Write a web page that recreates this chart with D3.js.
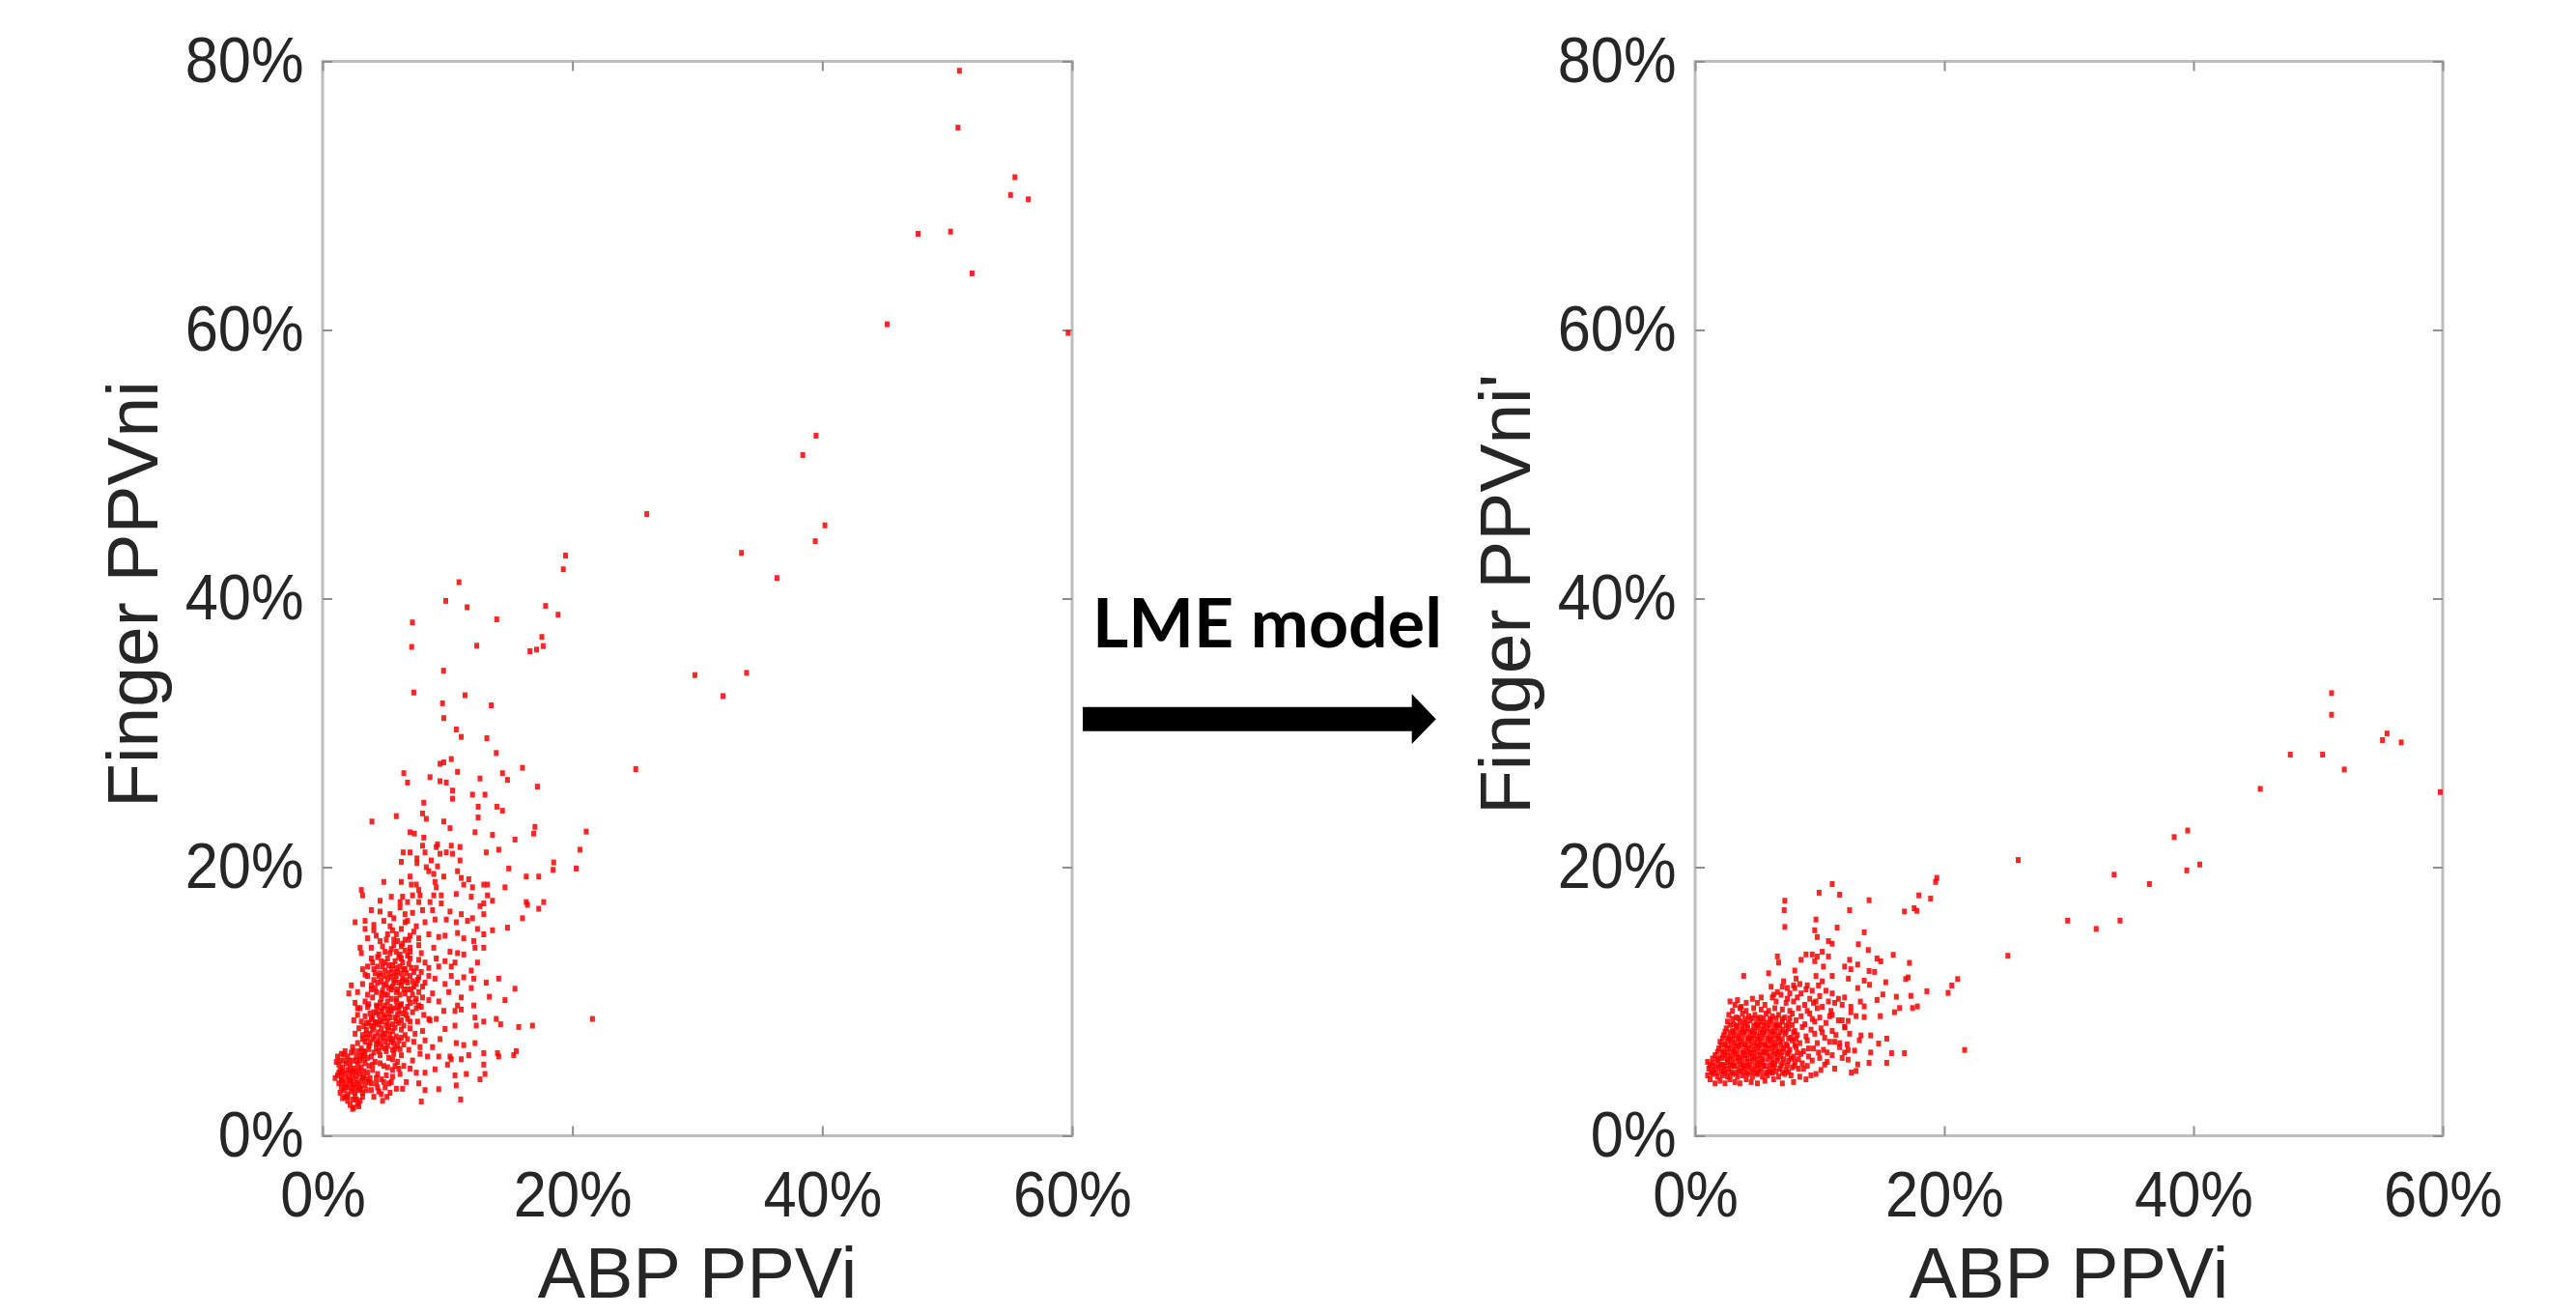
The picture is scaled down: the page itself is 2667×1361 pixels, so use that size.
<!DOCTYPE html>
<html>
<head>
<meta charset="utf-8">
<script src="https://cdn.jsdelivr.net/npm/d3@7"></script>
<style>
  body { margin: 0; background: #fff; }
  svg { display: block; }
</style>
</head>
<body>
<svg id="chart"></svg>
<script>
var width = 2667,
  height = 1361;

// axis setup
var xDomain = [0, 60];
var yDomain = [0, 80];
var xTicks = [0, 20, 40, 60];
var yTicks = [0, 20, 40, 60, 80];
var xTitle = 'ABP PPVi';
var yTitles = ['Finger PPVni', "Finger PPVni'"];
var arrowText = 'LME model';

// left panel: [ABP PPVi %, Finger PPVni %]
var beforeTail = [
  [50.98,79.3],[50.86,75.06],[55.42,71.37],[55.07,70.05],[56.49,69.73],[47.67,67.16],[50.27,67.32],[51.99,64.21],
  [45.19,60.42],[59.68,59.78],[39.5,52.13],[38.44,50.69],[25.95,46.29],[40.21,45.45],[39.44,44.27],[33.53,43.4],
  [36.37,41.53],[19.45,43.2],[19.27,42.18],[10.92,41.22],[9.86,39.83],[11.57,39.35],[7.19,38.22],[13.94,38.45],
  [17.85,39.45],[18.85,38.8],[7.13,36.4],[12.34,36.49],[17.55,37.14],[17.66,36.46],[16.6,36.08],[17.13,36.2],
  [9.68,34.63],[29.8,34.3],[33.94,34.47],[32.05,32.74],[25.07,27.3],[21.1,22.65],[20.6,21.3],[20.3,19.9],
  [7.3,33.0],[11.4,32.8],[9.6,32.2],[13.5,32.05],[9.7,31.1],[10.7,30.25],[11.1,29.7],[13.15,29.6],[13.9,28.5],
  [9.4,27.7],[9.7,27.8],[10.3,28.05],[10.8,27.1],[6.5,27.0],[6.8,26.3],[8.6,26.7],[9.4,26.4],[9.9,26.3],
  [10.4,25.7],[10.4,25.1],[12.6,26.6],[14.4,27.0],[14.8,26.5],[16.0,27.4],[17.2,26.0],[12.0,25.4],[13.0,25.4],
  [12.45,24.5],[12.45,23.7],[13.95,24.5],[14.4,24.2],[8.1,24.8],[8.0,24.0],[8.3,23.6],[5.9,23.8],[3.95,23.4],
  [9.7,23.4],[10.2,22.9],[12.2,22.6],[13.6,22.4],[15.4,22.05],[17.0,23.0],[16.9,22.5],[7.0,22.6],[7.35,22.5],
  [8.1,22.2],[8.0,21.6],[8.2,21.1],[9.2,21.7],[9.1,21.5],[10.3,21.6],[11.0,21.5],[10.4,21.0],[9.9,21.1],
  [9.4,21.0],[6.45,21.1],[7.0,21.1],[7.55,20.65],[7.55,20.3],[6.3,20.4],[8.7,20.5],[8.3,20.0],[9.2,20.06],
  [11.0,20.5],[13.1,21.1],[14.1,21.3],[18.5,20.35],[14.9,19.9],[18.45,19.8],[16.3,19.3],[17.3,19.3]
];

var beforeSpread = [
  [8.5,19.7],[8.9,19.5],[9.7,19.3],[10.8,19.7],[11.1,19.2],[11.7,19.1],[7.0,19.3],[7.1,18.7],[4.9,18.9],
  [6.3,18.9],[7.5,18.7],[7.7,18.3],[9.0,18.9],[9.1,18.5],[11.3,18.7],[12.0,18.5],[12.9,18.7],[3.1,18.3],
  [3.2,17.9],[5.5,17.8],[6.4,17.8],[7.2,17.9],[7.8,17.9],[8.9,17.9],[9.5,17.9],[10.7,18.0],[11.9,17.8],
  [4.6,17.5],[6.2,17.4],[6.8,17.4],[7.7,17.4],[8.6,17.4],[9.5,17.3],[12.9,17.3],[12.6,17.1],[3.9,16.8],
  [4.6,16.7],[5.4,16.5],[6.2,17.0],[6.6,16.5],[7.2,16.6],[8.0,16.8],[8.8,16.8],[10.2,16.7],[11.1,16.5],
  [12.0,16.2],[12.9,16.5],[2.6,15.9],[3.4,16.0],[4.1,15.7],[4.9,16.0],[5.7,16.2],[6.8,16.0],[7.5,15.6],
  [8.2,15.9],[9.0,16.1],[9.9,16.1],[10.7,15.9],[11.6,16.0],[12.4,15.4],[3.4,15.4],[4.1,15.3],[5.2,15.0],
  [5.9,15.0],[7.0,14.9],[7.7,14.7],[8.5,15.0],[9.3,14.8],[9.8,14.9],[10.8,15.1],[11.3,14.7],[12.1,14.5],
  [12.9,15.0],[3.6,14.7],[3.0,14.0],[3.9,14.0],[4.8,14.1],[5.7,14.2],[6.3,14.1],[7.0,14.0],[7.7,14.2],
  [8.9,14.0],[10.2,13.7],[10.8,13.6],[11.3,13.5],[12.2,14.0],[12.9,14.0],[3.1,13.6],[4.4,13.3],[5.2,13.2],
  [6.2,13.5],[7.0,13.2],[7.7,13.1],[8.2,12.9],[9.1,13.2],[9.8,13.0],[10.6,12.9],[12.4,12.9],[3.6,12.6],
  [4.1,12.4],[4.8,12.6],[5.5,12.4],[6.2,12.6],[6.7,12.1],[7.5,12.5],[8.5,12.5],[9.3,12.6],[10.3,12.6],
  [11.9,12.3],[3.6,11.9],[4.5,11.9],[5.2,11.7],[5.9,11.9],[6.4,11.7],[7.0,11.9],[7.7,11.8],[8.5,11.9],
  [9.0,11.7],[10.3,11.9],[11.3,11.8],[12.1,11.7],[2.3,11.2],[3.2,11.3],[3.9,11.2],[4.9,11.2],[5.7,11.4],
  [6.3,11.2],[6.8,11.4],[7.5,11.3],[8.0,11.1],[9.8,11.3],[10.8,11.4],[11.9,11.0],[2.1,10.6],[2.8,10.7],
  [3.6,10.5],[4.3,10.7],[5.2,10.5],[5.9,10.7],[6.6,10.6],[7.2,10.5],[7.7,10.7],[8.8,10.6],[10.1,10.7],
  [11.1,10.3],[2.6,9.9],[3.4,10.0],[4.3,9.7],[5.2,10.0],[6.2,9.7],[7.0,9.9],[7.7,9.7],[8.5,10.1],
  [9.3,10.0],[10.8,9.7],[12.1,9.7],[2.8,9.5],[4.8,9.5],[7.5,9.5],
  [5.8,13.0],[6.0,12.2],[6.4,12.9],[6.6,13.8],[6.1,11.4],[6.5,10.9],[5.9,10.2],[6.3,9.8],[6.9,10.2],
  [6.7,11.6],[6.0,14.5],[6.6,14.6],[5.6,12.7],[7.3,12.2],[7.1,10.9],[5.5,10.9],[6.2,10.5],[6.5,12.4],
  [5.9,13.7],[7.0,13.7],[5.3,11.0],[4.7,10.2],[7.4,10.0],[6.0,9.6],[6.8,9.6],[3.9,13.2],[4.6,12.1],
  [5.3,12.1],[5.0,13.7],[4.1,11.6],[4.8,10.8],[5.4,9.6],[7.9,12.2],[8.2,11.4],[7.5,10.2],[8.0,10.3],
  [3.7,9.8],[4.6,9.9],[3.2,12.4],[4.0,12.9],[4.5,13.5],[5.0,12.9],[5.4,13.6],[4.7,11.5],[4.2,11.0],
  [5.9,10.0],[5.0,10.5],[5.6,11.1],[6.4,11.5],[5.9,12.5],[6.3,13.2],[5.5,13.9],[6.9,12.8],[7.2,11.5],
  [4.4,12.6],[4.9,11.9],[5.5,11.8],[6.9,14.6],[6.3,15.4],[5.4,15.6],[4.6,14.5],[7.3,15.2],[5.1,14.6],
  [6.6,15.9],[7.9,13.6],
  [13.2,18.7],[14.6,18.5],[13.2,17.9],[13.6,17.5],[16.3,17.4],[16.4,17.2],[17.3,16.9],[17.7,17.4],[16.0,16.2],
  [13.6,15.3],[14.8,15.5],[13.1,11.4],[14.1,11.7],[15.4,10.95],[13.35,10.35],[14.6,10.1]
];

var beforeCore = [
  [2.2,2.3],[2.5,2.1],[2.8,2.4],[2.0,2.6],[2.4,2.7],[3.0,2.6],[1.8,2.9],[2.6,2.9],[3.2,2.9],[2.4,2.0],
  [1.4,3.2],[1.7,3.4],[2.0,3.1],[2.3,3.3],[2.6,3.2],[2.9,3.4],[3.2,3.2],[3.5,3.4],[1.5,3.6],[2.1,3.6],
  [1.3,3.9],[1.6,4.0],[1.9,3.8],[2.2,4.1],[2.5,3.8],[2.8,3.9],[3.1,4.1],[3.4,3.8],[3.7,4.0],[2.7,3.6],
  [2.4,4.3],[3.0,3.7],[1.2,4.5],[1.5,4.4],[1.8,4.6],[2.1,4.4],[2.4,4.7],[2.7,4.5],[3.0,4.6],[3.3,4.4],
  [3.6,4.7],[1.4,4.9],[2.0,4.9],[2.9,4.9],[3.5,4.2],[1.3,5.3],[1.6,5.1],[1.9,5.4],[2.2,5.2],[2.5,5.0],
  [2.8,5.3],[3.1,5.1],[3.4,5.4],[3.7,5.2],[1.7,5.6],[2.4,5.6],[3.0,5.6],[1.2,5.9],[1.5,6.1],[2.0,5.9],
  [2.3,6.2],[2.7,5.9],[3.2,6.0],[3.6,5.8],[1.8,6.3],[2.9,6.3],[1.0,4.3],[1.1,5.5],[1.6,2.8],[2.9,2.2],
  [3.9,5.9],[4.2,5.5],[4.6,6.0],[4.0,4.9],[4.4,4.6],[4.9,5.2],[5.3,5.8],[5.6,4.9],[6.0,5.5],[3.8,4.3],
  [4.3,3.9],[4.7,4.2],[5.1,4.5],[5.5,4.0],[6.2,4.6],[6.5,5.2],[3.9,3.4],[4.5,3.3],[5.0,3.6],[5.4,3.2],
  [5.9,3.5],[4.1,2.9],[5.15,2.9],[6.4,3.5],[6.7,4.0],[4.8,2.6],[5.7,6.1],[6.3,6.0],
  [2.4,6.6],[2.8,6.9],[3.1,6.5],[3.4,7.0],[3.7,6.7],[4.0,7.2],[4.3,6.5],[4.6,6.9],[4.9,7.3],[5.2,6.7],
  [5.5,7.0],[5.8,6.5],[6.1,7.1],[6.5,6.8],[6.9,6.4],[7.3,7.0],[7.8,6.6],[2.6,7.6],[2.9,8.0],[3.2,7.5],
  [3.5,7.9],[3.8,7.6],[4.1,8.1],[4.4,7.7],[4.7,8.0],[5.0,7.6],[5.3,8.1],[5.6,7.8],[5.9,7.4],[6.3,7.9],
  [6.6,7.5],[7.0,8.0],[7.4,7.6],[8.0,7.8],[2.5,8.6],[2.8,9.0],[3.1,8.5],[3.4,8.9],[3.7,8.4],[4.0,8.8],
  [4.3,9.2],[4.6,8.6],[4.9,9.0],[5.2,8.5],[5.5,9.3],[5.8,8.8],[6.1,8.4],[6.4,9.1],[6.8,8.7],[7.2,9.2],
  [7.6,8.5],[8.1,9.0],[8.6,8.6],[3.0,9.5],[3.6,9.6],[4.4,9.6],[5.0,9.7],[5.7,9.5],[6.6,9.4],[7.9,9.6],
  [3.3,6.3],[3.6,7.3],[4.2,7.4],[4.5,6.3],[4.8,7.6],[5.1,6.3],[5.4,7.5],[3.9,8.2],[4.5,8.3],[5.1,8.2],
  [3.2,7.2],[5.7,6.9],[3.8,6.9],[4.1,6.2],[4.4,7.0],[4.7,6.6],[5.0,7.0],[5.3,7.2],[5.6,6.4],[6.0,6.7],
  [6.3,7.3],[3.5,8.4],[3.9,8.7],[4.2,8.4],[4.8,8.5],[5.4,8.8],[5.6,8.3],[6.0,9.0],[6.3,8.6],[4.1,9.2],
  [4.7,9.3],[5.3,9.1],
  [11.1,9.4],[10.6,9.3],[9.7,9.3],[9.8,7.95],[10.6,8.2],[8.5,8.7],[9.1,8.7],[10.7,6.9],[11.3,6.75],
  [11.7,6.0],[10.2,5.9],[10.3,5.7],[11.1,5.7],[12.9,6.15],[12.9,5.3],[11.5,4.6],[12.6,4.2],[13.0,4.6],
  [10.6,4.5],[10.7,3.75],[9.3,3.47],[7.7,3.9],[8.2,3.4],[7.9,2.55],[11.05,2.7],[7.5,4.7],[8.2,4.7],
  [9.0,4.95],[9.3,5.9],[10.0,5.3],[7.2,5.6],[7.8,6.1],[8.4,5.9],[8.8,6.6],[9.4,7.2],[8.2,7.1],[7.0,5.0],
  [13.9,8.7],[14.25,8.3],[15.7,8.1],[16.8,8.2],[21.6,8.7],[12.2,6.9],[14.0,6.15],[14.1,5.9],[15.3,6.0],
  [15.5,6.3],[12.2,8.8],[12.3,8.2],[12.9,8.5]
];

// extra marks where the left cloud is packed solid
var beforeFill = [
  [1.5,4.15],[1.9,4.2],[2.3,3.95],[2.7,4.15],[3.2,4.3],[1.6,4.75],[2.2,4.8],[2.6,4.8],[3.3,4.8],[1.4,5.6],
  [2.1,5.6],[2.7,5.6],[3.3,5.75],[1.8,3.6],[2.4,3.55],[3.1,3.5],[2.0,2.9],[2.7,2.7],[1.7,6.05],[2.5,6.3],
  [3.4,6.2],[1.3,4.7],[3.0,5.9],
  [3.7,6.45],[4.3,6.85],[5.0,6.5],[5.6,7.2],[6.2,6.45],[6.8,7.2],[3.5,7.6],[4.0,7.9],[4.6,7.35],[5.2,7.85],
  [5.8,8.05],[6.5,8.2],[3.3,8.15],[4.3,8.45],[5.0,8.8],[5.9,8.55],[6.7,9.0],[3.8,9.1],[4.5,9.0],[5.2,9.4],
  [6.1,9.3],[7.0,8.5],[4.0,10.3],[4.7,10.6],[5.5,10.2],[6.0,10.9],[6.8,10.9],[4.4,11.4],[5.1,11.3],[5.8,11.6],
  [6.6,12.4],[7.3,11.1],[4.2,12.1],[5.0,12.3],[5.7,12.1],[6.3,12.1],[7.1,12.5],[5.3,12.7],[6.1,13.3],[4.7,13.0],
  [6.8,13.4],[5.7,14.6],[6.4,14.3],[4.3,14.9],[5.6,15.3],[3.4,12.0],[3.9,10.9],[7.6,11.6],
  [4.0,5.3],[4.6,5.4],[5.2,5.1],[5.8,5.2],[4.3,4.3],[4.9,4.0],[5.6,4.4],[4.4,3.6],[5.3,3.9],[3.9,3.9],
  [4.7,3.1],[5.6,5.7],[6.1,5.0]
];

// right panel: [ABP PPVi %, Finger PPVni' %]
var afterTail = [
  [51.08,32.96],[51.08,31.35],[55.53,29.95],[55.17,29.46],[56.67,29.29],[47.77,28.38],[50.36,28.38],[52.1,27.27],
  [45.36,25.83],[59.8,25.59],[38.45,22.24],[39.53,22.73],[39.46,19.76],[40.5,20.2],[25.93,20.53],[33.63,19.44],
  [36.46,18.74],[29.9,16.02],[32.19,15.4],[34.1,16.02],
  [19.4,19.2],[19.3,18.9],[17.96,17.9],[18.9,17.66],[13.96,17.54],[17.58,16.94],[16.8,16.7],[17.8,16.75],
  [13.57,15.15],[13.1,14.26],[13.9,13.83],[14.6,13.2],[14.9,12.99],[15.9,13.47],[17.2,12.87],[25.1,13.4],
  [13.05,12.75],[13.96,12.27],[14.4,12.2],[13.57,11.55],[14.0,11.24],[15.3,11.43],[16.9,11.67],[17.1,11.79],
  [13.05,11.0],[18.6,10.76],[21.07,11.67],[20.6,11.19],[20.3,10.64],[15.07,10.52],[16.15,10.35],[17.32,10.42],
  [14.6,10.11],[13.26,9.99],[13.57,9.63],[16.41,9.51],[16.0,9.2],[17.45,9.51],[17.84,9.63],[12.92,8.91],
  [12.28,8.55],[13.57,8.84],[14.86,8.91],[12.02,8.07],[13.31,7.47],[13.18,7.11],[14.09,7.47],[14.73,6.87],
  [15.38,7.23],[12.28,6.39],[12.8,6.34],[14.09,6.2],[15.77,6.15],[16.8,6.15],[21.63,6.39],[12.28,5.67],
  [13.05,5.31],[12.92,4.83],[12.54,4.71],[13.96,5.43],[15.38,5.43]
];

var afterSpread = [
  [11.0,18.74],[9.95,18.1],[11.6,17.95],[7.2,17.5],[7.15,16.8],[12.4,16.8],[9.7,16.1],[7.2,15.55],
  [9.6,15.3],[9.8,14.8],[11.4,15.5],[10.7,14.5],[11.0,14.3],[6.6,13.35],[6.7,12.9],[8.9,13.5],[9.4,13.5],
  [9.8,13.35],[10.2,13.7],[10.7,13.35],[8.5,13.1],[9.6,13.0],[10.3,12.6],[12.0,12.6],[12.4,13.1],[12.5,12.4],
  [3.9,11.9],[5.9,12.1],[8.0,12.3],[8.1,11.7],[9.7,11.9],[10.2,11.5],[11.0,11.9],[12.3,11.7],[7.1,11.5],
  [7.0,11.1],[6.6,10.7],[7.4,11.0],[7.9,11.2],[8.4,11.3],[9.0,11.2],[9.4,10.8],[9.9,11.2],[10.5,10.8],
  [11.0,10.6],[11.5,10.2],[12.0,10.3],[6.1,11.1],[6.2,10.3],[6.5,10.0],[7.4,10.2],[7.9,10.0],[8.5,10.6],
  [8.8,9.75],[9.2,10.2],[9.7,10.0],[10.2,9.6],[10.7,10.0],[11.8,9.75],[12.5,9.6],[2.8,10.0],[3.2,9.75],
  [3.7,9.6],[4.6,10.2],[5.0,9.9],[5.6,9.75],[6.9,10.5],[7.6,10.6],[8.2,10.3],[8.9,10.9],[9.5,9.9],
  [10.0,10.4],[11.2,9.9],[7.3,9.9],[8.0,11.0],[6.3,10.5],[4.1,9.9],[3.4,10.1],[5.3,10.3]
];

var afterCore = [
  [1.2,4.2],[1.6,3.9],[2.0,4.1],[2.4,3.9],[2.8,4.2],[3.2,4.0],[3.6,3.9],[4.1,4.2],[4.5,4.0],[5.0,3.9],
  [5.6,4.1],[6.3,4.2],[7.0,3.9],[7.9,4.0],
  [1.0,4.5],[1.4,4.6],[1.8,4.4],[2.2,4.5],[2.6,4.4],[3.0,4.6],[3.4,4.4],[3.8,4.5],[4.2,4.6],[4.6,4.4],
  [5.0,4.6],[5.4,4.4],[5.8,4.5],[6.2,4.7],[6.7,4.4],[7.2,4.6],[7.7,4.5],[8.4,4.4],[9.3,4.5],
  [1.1,5.0],[1.5,4.9],[1.9,5.1],[2.3,4.9],[2.7,5.0],[3.1,5.2],[3.5,4.9],[3.9,5.0],[4.3,5.1],[4.7,4.9],
  [5.1,5.0],[5.5,5.2],[5.9,4.9],[6.3,5.1],[6.8,5.0],[7.3,4.9],[7.8,5.1],[8.3,5.0],[9.0,5.2],[10.1,4.9],
  [1.0,5.5],[1.4,5.4],[1.8,5.6],[2.2,5.3],[2.6,5.5],[3.0,5.4],[3.4,5.6],[3.8,5.3],[4.2,5.5],[4.6,5.6],
  [5.0,5.4],[5.4,5.5],[5.8,5.7],[6.2,5.4],[6.6,5.6],[7.0,5.4],[7.5,5.6],[8.0,5.5],[8.6,5.4],[9.4,5.6],
  [10.6,5.5],
  [1.6,6.0],[2.0,5.8],[2.4,6.0],[2.8,5.9],[3.2,6.1],[3.6,5.8],[4.0,6.0],[4.4,6.1],[4.8,5.9],[5.2,6.0],
  [5.6,6.2],[6.0,5.9],[6.4,6.1],[6.9,5.9],[7.4,6.1],[7.9,5.9],[8.5,6.1],[9.1,5.9],[9.9,6.2],[11.0,6.0],
  [1.9,6.5],[2.3,6.3],[2.7,6.5],[3.1,6.4],[3.5,6.6],[3.9,6.3],[4.3,6.5],[4.7,6.4],[5.1,6.6],[5.5,6.3],
  [5.9,6.5],[6.3,6.6],[6.7,6.3],[7.1,6.5],[7.6,6.4],[8.1,6.6],[8.7,6.3],[9.5,6.5],[10.3,6.4],[11.6,6.6],
  [2.0,7.0],[2.4,6.8],[2.8,7.1],[3.2,6.9],[3.6,7.0],[4.0,6.8],[4.4,7.1],[4.8,6.9],[5.2,7.0],[5.6,6.8],
  [6.0,7.1],[6.4,6.9],[6.8,7.0],[7.3,6.8],[7.8,7.1],[8.4,6.9],[9.0,7.1],[9.8,6.9],[10.8,7.0],[12.2,6.8],
  [2.3,7.5],[2.7,7.3],[3.1,7.5],[3.5,7.4],[3.9,7.6],[4.3,7.3],[4.7,7.5],[5.1,7.4],[5.5,7.6],[5.9,7.3],
  [6.3,7.5],[6.7,7.4],[7.2,7.6],[7.7,7.3],[8.2,7.5],[8.9,7.4],[9.6,7.6],[10.4,7.3],[11.3,7.5],
  [2.5,8.0],[3.0,7.8],[3.4,8.1],[3.8,7.9],[4.2,8.0],[4.6,7.8],[5.0,8.1],[5.4,7.9],[5.8,8.0],[6.2,7.8],
  [6.6,8.1],[7.0,7.9],[7.5,8.0],[8.0,7.8],[8.6,8.1],[9.3,7.9],[10.1,8.0],[11.0,7.8],[12.0,8.1],
  [2.6,8.5],[3.1,8.3],[3.6,8.5],[4.0,8.4],[4.4,8.6],[4.9,8.3],[5.3,8.5],[5.7,8.4],[6.1,8.6],[6.5,8.3],
  [7.0,8.5],[7.5,8.4],[8.1,8.6],[8.8,8.3],[9.6,8.5],[10.5,8.4],[11.5,8.6],
  [2.7,9.0],[3.3,8.8],[3.8,9.1],[4.3,8.9],[4.8,9.0],[5.2,8.8],[5.7,9.1],[6.2,8.9],[6.7,9.0],[7.2,8.8],
  [7.8,9.1],[8.5,8.9],[9.2,9.1],[10.0,8.8],[11.0,9.0],
  [3.0,9.3],[3.6,9.5],[4.1,9.3],[4.7,9.5],[5.3,9.4],[5.9,9.3],[6.4,9.5],[7.0,9.4],[7.6,9.3],[8.3,9.5],
  [9.0,9.3],[9.8,9.5],[10.9,9.3],
  [8.9,4.2],[9.7,4.6],[10.4,5.3],[11.2,5.0],[11.8,5.8],[10.6,6.2],[11.2,7.0],[12.4,7.6],[11.8,8.6],
  [12.5,9.2],[10.8,8.9],[9.4,8.7],[10.2,7.7],[11.6,6.9],[9.1,6.5],[10.0,5.8],[8.7,5.0],[12.0,6.2]
];

// extra marks where the right cloud is packed solid
var afterFill = [
  [1.3,4.75],[1.7,4.7],[2.1,4.8],[2.5,4.7],[2.9,4.75],[3.3,4.7],[3.7,4.8],[4.1,4.7],[4.5,4.75],[4.9,4.7],
  [5.3,4.8],[5.7,4.7],[6.1,4.75],[6.5,4.8],[7.0,4.7],[7.5,4.75],
  [1.2,5.25],[1.6,5.2],[2.0,5.3],[2.4,5.2],[2.8,5.25],[3.2,5.2],[3.6,5.3],[4.0,5.2],[4.4,5.25],[4.8,5.2],
  [5.2,5.3],[5.6,5.2],[6.0,5.25],[6.4,5.3],[6.9,5.2],[7.4,5.25],[8.0,5.2],
  [1.4,5.75],[1.8,5.7],[2.2,5.8],[2.6,5.7],[3.0,5.75],[3.4,5.8],[3.8,5.7],[4.2,5.75],[4.6,5.8],[5.0,5.7],
  [5.4,5.75],[6.2,5.7],[6.6,5.8],[7.1,5.7],[7.7,5.75],[8.3,5.7],
  [1.8,6.25],[2.2,6.2],[2.6,6.2],[3.0,6.25],[3.4,6.2],[3.8,6.15],[4.2,6.25],[4.6,6.2],[5.0,6.25],[5.4,6.2],
  [5.8,6.15],[6.2,6.25],[6.6,6.2],[7.0,6.25],[7.5,6.2],[8.2,6.2],
  [2.1,6.75],[2.5,6.7],[2.9,6.75],[3.3,6.7],[3.7,6.75],[4.1,6.7],[4.5,6.75],[4.9,6.7],[5.3,6.75],[5.7,6.7],
  [6.1,6.75],[6.5,6.7],[6.9,6.75],[7.4,6.7],[8.0,6.75],
  [2.2,7.25],[2.6,7.2],[3.0,7.2],[3.4,7.25],[3.8,7.2],[4.2,7.2],[4.6,7.25],[5.0,7.2],[5.4,7.25],[5.8,7.2],
  [6.2,7.2],[6.6,7.25],[7.0,7.2],[7.5,7.25],[8.1,7.2],
  [2.4,7.75],[2.8,7.7],[3.2,7.75],[3.6,7.7],[4.0,7.75],[4.4,7.7],[4.8,7.75],[5.2,7.7],[5.6,7.75],[6.0,7.7],
  [6.4,7.75],[6.8,7.7],[7.3,7.75],[7.9,7.7],
  [2.8,8.25],[3.3,8.2],[3.8,8.2],[4.2,8.25],[4.7,8.2],[5.1,8.25],[5.5,8.2],[6.0,8.25],[6.4,8.2],[6.8,8.25],
  [7.3,8.2],[7.8,8.25],
  [3.0,8.7],[3.5,8.75],[4.0,8.7],[4.6,8.75],[5.0,8.7],[5.5,8.75],[6.0,8.7],[6.5,8.75],[7.0,8.7],[7.6,8.75]
];

var plotTop = 63.5,
  plotBottom = 1175.5;

var panels = [
  { left: 334, right: 1110, yTitle: yTitles[0], points: beforeTail.concat(beforeSpread, beforeCore, beforeFill) },
  { left: 1755, right: 2529, yTitle: yTitles[1], points: afterTail.concat(afterSpread, afterCore, afterFill) }
];

var textFont = '"Liberation Sans", Arial, Helvetica, sans-serif';
var textColor = '#262626';

var svg = d3.select('#chart')
  .attr('width', width)
  .attr('height', height);

svg.append('rect')
  .attr('width', width)
  .attr('height', height)
  .attr('fill', '#fff');

panels.forEach(drawPanel);

function drawPanel(p) {
  var x = d3.scaleLinear().domain(xDomain).range([p.left, p.right]);
  var y = d3.scaleLinear().domain(yDomain).range([plotBottom, plotTop]);
  var pct = function(d) { return d + '%'; };

  var g = svg.append('g');

  // axes box
  g.append('rect')
    .attr('x', p.left)
    .attr('y', plotTop)
    .attr('width', p.right - p.left)
    .attr('height', plotBottom - plotTop)
    .attr('fill', 'none')
    .attr('stroke', '#bdbdbd')
    .attr('stroke-width', 3);

  g.append('g')
    .attr('transform', 'translate(0,' + plotBottom + ')')
    .call(d3.axisBottom(x).tickValues(xTicks).tickSize(-10).tickPadding(37).tickFormat(pct));

  g.append('g')
    .attr('transform', 'translate(' + p.left + ',0)')
    .call(d3.axisLeft(y).tickValues(yTicks).tickSize(-10).tickPadding(21).tickFormat(pct));

  g.append('g')
    .attr('transform', 'translate(0,' + plotTop + ')')
    .call(d3.axisTop(x).tickValues(xTicks).tickSize(-10).tickFormat(''));

  g.append('g')
    .attr('transform', 'translate(' + p.right + ',0)')
    .call(d3.axisRight(y).tickValues(yTicks).tickSize(-10).tickFormat(''));

  g.selectAll('.domain').remove();
  g.selectAll('.tick line')
    .attr('stroke', '#8f8f8f')
    .attr('stroke-width', 2);
  g.selectAll('.tick text')
    .attr('font-family', textFont)
    .attr('font-size', 66)
    .attr('fill', textColor)
    .attr('transform', 'scale(0.93,1)');

  // scatter marks
  g.append('g')
    .selectAll('rect')
    .data(p.points)
    .enter().append('rect')
    .attr('x', function(d) { return x(d[0]) - 2.5; })
    .attr('y', function(d) { return y(d[1]) - 3; })
    .attr('width', 5)
    .attr('height', 6)
    .attr('fill', '#ff0000')
    .attr('opacity', 0.85);

  // axis titles
  g.append('text')
    .attr('x', (p.left + p.right) / 2)
    .attr('y', 1343)
    .attr('text-anchor', 'middle')
    .attr('font-family', textFont)
    .attr('font-size', 74)
    .attr('fill', textColor)
    .text(xTitle);

  g.append('text')
    .attr('transform', 'translate(' + (p.left - 171) + ',615) rotate(-90)')
    .attr('text-anchor', 'middle')
    .attr('font-family', textFont)
    .attr('font-size', 75)
    .attr('fill', textColor)
    .text(p.yTitle);
}

// arrow between the panels
svg.append('text')
  .attr('x', 1131)
  .attr('y', 670)
  .attr('font-family', 'Lato, "Open Sans", sans-serif')
  .attr('font-weight', 700)
  .attr('font-size', 71)
  .attr('textLength', 362)
  .attr('lengthAdjust', 'spacingAndGlyphs')
  .attr('fill', '#000')
  .text(arrowText);

svg.append('path')
  .attr('d', 'M1121,731.7L1461.7,731.7L1461.7,718.3L1486.7,744.2L1461.7,770L1461.7,756.7L1121,756.7Z')
  .attr('fill', '#000');
</script>
</body>
</html>
